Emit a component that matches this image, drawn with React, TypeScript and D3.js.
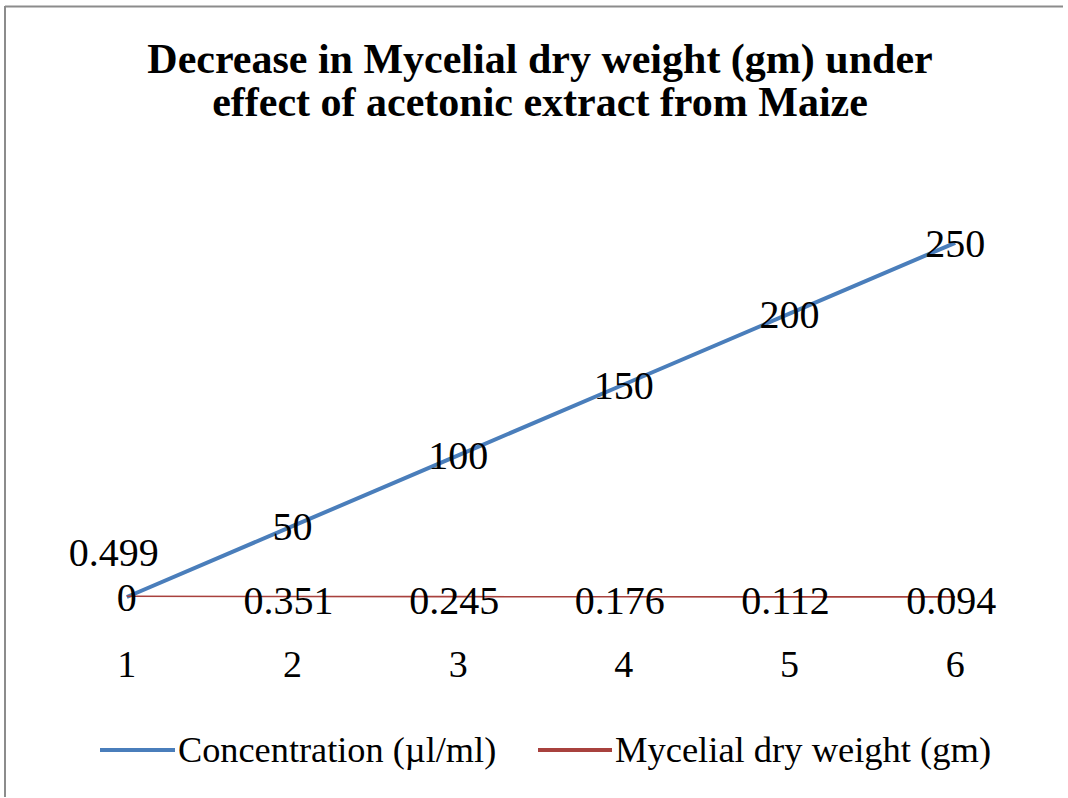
import React from "react";
import { scalePoint, scaleLinear, line } from "d3";

const categories = ["1", "2", "3", "4", "5", "6"];
const concentration = [0, 50, 100, 150, 200, 250];
const dryWeight = [0.499, 0.351, 0.245, 0.176, 0.112, 0.094];
const dryWeightLabels = ["0.499", "0.351", "0.245", "0.176", "0.112", "0.094"];
const titleLines = [
  "Decrease in Mycelial dry weight (gm) under",
  "effect of acetonic extract from Maize",
];
const seriesNames = ["Concentration (\u00b5l/ml)", "Mycelial dry weight (gm)"];

const W = 1068;
const H = 798;
const serif = "'Liberation Serif', 'Times New Roman', serif";
const blue = "#4A7EBB";
const red = "#A8413D";

export default function App() {
  const x = scalePoint().domain(categories).range([44, 1038]).padding(0.5);
  const y = scaleLinear().domain([0, 300]).range([597, 172]);

  const seriesLine = line<number>()
    .x((_, i) => x(categories[i])!)
    .y((d) => y(d));

  return (
    <svg
      width={W}
      height={H}
      style={{ position: "absolute", left: 0, top: 0, background: "#fff" }}
    >
      <rect x={0} y={0} width={W} height={H} fill="#fff" />
      {/* chart frame */}
      <line x1={5} y1={6.5} x2={1063} y2={6.5} stroke="#8c8c8c" strokeWidth={2} />
      <line x1={5} y1={6} x2={5} y2={797} stroke="#8c8c8c" strokeWidth={2} />

      {titleLines.map((t, i) => (
        <text
          key={t}
          x={540}
          y={73 + i * 43}
          textAnchor="middle"
          fontFamily={serif}
          fontWeight="bold"
          fontSize={42}
          fill="#000"
        >
          {t}
        </text>
      ))}

      <path d={seriesLine(concentration)!} fill="none" stroke={blue} strokeWidth={4} />
      <path d={seriesLine(dryWeight)!} fill="none" stroke={red} strokeWidth={1.6} />

      {concentration.map((v, i) => (
        <text
          key={"c" + i}
          x={x(categories[i])}
          y={y(v)}
          dy="0.35em"
          textAnchor="middle"
          fontFamily={serif}
          fontSize={40}
          fill="#000"
        >
          {v}
        </text>
      ))}

      {dryWeight.map((v, i) => (
        <text
          key={"d" + i}
          x={x(categories[i])! + (i === 0 ? -13 : -4)}
          y={y(v) + (i === 0 ? -44 : 3)}
          dy="0.35em"
          textAnchor="middle"
          fontFamily={serif}
          fontSize={40}
          fill="#000"
        >
          {dryWeightLabels[i]}
        </text>
      ))}

      {categories.map((c) => (
        <text
          key={"x" + c}
          x={x(c)}
          y={677}
          textAnchor="middle"
          fontFamily={serif}
          fontSize={38}
          fill="#000"
        >
          {c}
        </text>
      ))}

      {/* legend */}
      <line x1={100} y1={750} x2={175} y2={750} stroke={blue} strokeWidth={4} />
      <text x={178} y={762} fontFamily={serif} fontSize={36.3} fill="#000">
        {seriesNames[0]}
      </text>
      <line x1={538} y1={750} x2={612} y2={750} stroke={red} strokeWidth={4} />
      <text x={615} y={762} fontFamily={serif} fontSize={36.5} fill="#000">
        {seriesNames[1]}
      </text>
    </svg>
  );
}
